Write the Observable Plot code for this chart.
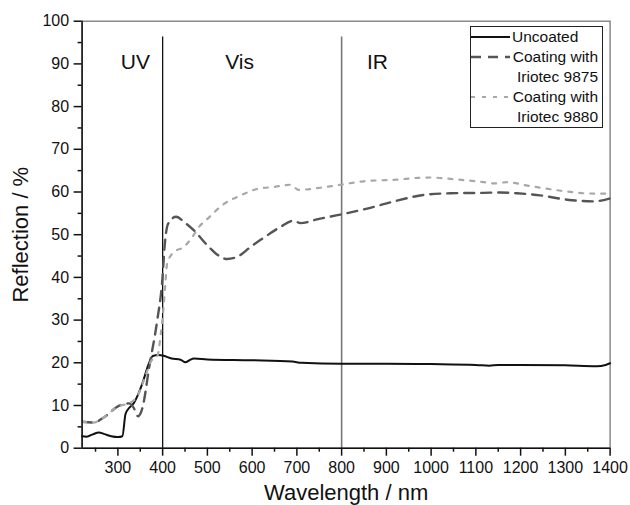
<!DOCTYPE html>
<html>
<head>
<meta charset="utf-8">
<script src="https://cdn.jsdelivr.net/npm/d3@7"></script>
<script src="https://cdn.jsdelivr.net/npm/@observablehq/plot@0.6"></script>
<style>
  html, body { margin: 0; padding: 0; background: #fff; }
  #wrap { position: relative; width: 630px; height: 505px; font-family: "Liberation Sans", Arial, sans-serif; }
  #legend { position: absolute; left: 470px; top: 26px; }
  [aria-label="y-axis label"] text, [aria-label="x-axis label"] text { font-size: 22px; }
</style>
</head>
<body>
<div id="wrap"></div>
<script>
// ---- Data ----
const wlUncoated = [220, 230, 245, 257, 270, 285, 300, 310, 317, 324, 335, 346, 357, 368, 378, 390, 400, 420, 440, 451, 460, 470, 500, 600, 690, 710, 800, 900, 1000, 1100, 1130, 1150, 1200, 1300, 1370, 1390, 1400];
const rUncoated  = [2.8, 2.7, 3.3, 3.7, 3.3, 2.8, 2.6, 2.8, 8.0, 9.3, 10.5, 12.8, 15.9, 19.5, 21.6, 21.8, 21.7, 21.0, 20.7, 20.1, 20.6, 21.0, 20.8, 20.6, 20.3, 20.0, 19.8, 19.8, 19.7, 19.5, 19.3, 19.5, 19.5, 19.4, 19.2, 19.5, 19.9];

const wl9875 = [220, 245, 270, 300, 325, 335, 345, 355, 370, 388, 399, 405, 412, 430, 450, 470, 500, 520, 544, 570, 596, 626, 663, 693, 708, 745, 797, 864, 917, 983, 1043, 1118, 1155, 1192, 1244, 1304, 1364, 1400];
const r9875  = [6.2, 6.0, 7.3, 9.8, 10.5, 9.5, 7.5, 9.5, 19.0, 30.0, 39.0, 48.0, 52.5, 54.2, 52.8, 51.0, 47.5, 45.5, 44.3, 45.0, 47.1, 49.3, 51.8, 53.3, 52.7, 53.6, 54.7, 56.3, 57.8, 59.3, 59.7, 59.8, 59.9, 59.7, 59.2, 58.2, 57.8, 58.5];

const wl9880 = [220, 245, 270, 300, 325, 345, 360, 375, 388, 395, 402, 406, 410, 425, 447, 466, 481, 500, 537, 574, 611, 650, 686, 704, 753, 797, 849, 924, 969, 998, 1050, 1118, 1140, 1170, 1215, 1290, 1342, 1387, 1400];
const r9880  = [6.2, 6.0, 7.3, 9.8, 10.5, 12.5, 16.5, 20.5, 21.5, 26.0, 33.0, 38.5, 43.2, 45.9, 47.1, 49.4, 51.8, 53.7, 57.2, 59.2, 60.7, 61.2, 61.7, 60.5, 61.0, 61.7, 62.5, 62.9, 63.3, 63.4, 63.0, 62.3, 62.0, 62.3, 61.5, 60.3, 59.7, 59.6, 60.3];

const regionBounds = [400, 800];
const regionNames = ["UV", "Vis", "IR"];
const regionLabelX = [339, 572, 880];
const regionLabelY = 88.9;
const regionLineTop = 96.3;

const xMajorTicks = [300, 400, 500, 600, 700, 800, 900, 1000, 1100, 1200, 1300, 1400];
const xMinorTicks = [250, 350, 450, 550, 650, 750, 850, 950, 1050, 1150, 1250, 1350];
const yMajorTicks = [0, 10, 20, 30, 40, 50, 60, 70, 80, 90, 100];
const yMinorTicks = [5, 15, 25, 35, 45, 55, 65, 75, 85, 95];

const seriesNames = ["Uncoated", "Coating with Iriotec 9875", "Coating with Iriotec 9880"];

// ---- Build tables ----
const toRows = (wl, r) => wl.map((w, i) => ({wl: w, r: r[i]}));
const uncoated = toRows(wlUncoated, rUncoated);
const c9875 = toRows(wl9875, r9875);
const c9880 = toRows(wl9880, r9880);
const regionLabels = regionNames.map((n, i) => ({name: n, x: regionLabelX[i], y: regionLabelY}));

const styles = {
  uncoated: {stroke: "#111", strokeWidth: 2},
  c9875: {stroke: "#555", strokeWidth: 2.4, strokeDasharray: "10,7"},
  c9880: {stroke: "#a8a8a8", strokeWidth: 2.2, strokeDasharray: "4,7"}
};

const chart = Plot.plot({
  width: 630,
  height: 505,
  marginLeft: 81.6,
  marginRight: 20.4,
  marginTop: 20.7,
  marginBottom: 57.3,
  style: {fontFamily: "'Liberation Sans', Arial, sans-serif", fontSize: "16px", color: "#111", background: "#fff"},
  x: {domain: [220, 1400]},
  y: {domain: [0, 100]},
  marks: [
    Plot.frame({stroke: "#777", strokeWidth: 1.3}),
    Plot.ruleX(regionBounds, {y1: 0, y2: regionLineTop, stroke: (d) => d === 400 ? "#111" : "#777", strokeWidth: (d) => d === 400 ? 1.3 : 1.6}),
    Plot.text(regionLabels, {x: "x", y: "y", text: "name", fontSize: 21, lineAnchor: "bottom", fill: "#111"}),
    Plot.line(uncoated, {x: "wl", y: "r", curve: "monotone-x", ...styles.uncoated}),
    Plot.line(c9875, {x: "wl", y: "r", curve: "monotone-x", ...styles.c9875}),
    Plot.line(c9880, {x: "wl", y: "r", curve: "monotone-x", ...styles.c9880}),
    Plot.ruleX([220], {stroke: "#111", strokeWidth: 1.5}),
    Plot.ruleY([0], {stroke: "#111", strokeWidth: 1.5}),
    Plot.axisX({ticks: xMajorTicks, tickSize: 8, tickPadding: 5, strokeWidth: 1.5, label: "Wavelength / nm", labelAnchor: "center", labelArrow: "none", labelOffset: 52, tickFormat: (d) => String(d)}),
    Plot.axisX({ticks: xMinorTicks, tickSize: 4, strokeWidth: 1.5, text: null, label: null}),
    Plot.axisY({ticks: yMajorTicks, tickSize: 8, tickPadding: 5, strokeWidth: 1.5, label: "Reflection / %", labelAnchor: "center", labelArrow: "none", labelOffset: 70, tickFormat: (d) => String(d)}),
    Plot.axisY({ticks: yMinorTicks, tickSize: 4, strokeWidth: 1.5, text: null, label: null})
  ]
});

const wrap = document.getElementById("wrap");
wrap.appendChild(chart);

// ---- Legend (HTML/SVG overlay) ----
const lg = d3.select(wrap).append("svg").attr("id", "legend").attr("width", 134).attr("height", 103)
  .style("font-family", "'Liberation Sans', Arial, sans-serif");
lg.append("rect").attr("x", 0.5).attr("y", 0.5).attr("width", 132).attr("height", 101)
  .attr("fill", "#fff").attr("stroke", "#222").attr("stroke-width", 1);
const legendRows = [
  {key: "uncoated", lines: [seriesNames[0]], anchor: "start"},
  {key: "c9875", lines: ["Coating with", "Iriotec 9875"], anchor: "end"},
  {key: "c9880", lines: ["Coating with", "Iriotec 9880"], anchor: "end"}
];
let rowY = 11;
legendRows.forEach((row) => {
  const s = styles[row.key];
  lg.append("line").attr("x1", 1).attr("x2", 40).attr("y1", rowY).attr("y2", rowY)
    .attr("stroke", s.stroke).attr("stroke-width", s.strokeWidth)
    .attr("stroke-dasharray", s.strokeDasharray || null);
  row.lines.forEach((t, j) => {
    lg.append("text").attr("x", row.anchor === "start" ? 42 : 128).attr("y", rowY + j * 20)
      .attr("dy", "0.35em").attr("text-anchor", row.anchor)
      .attr("font-size", 15.5).attr("fill", "#111").text(t);
  });
  rowY += 20 * row.lines.length;
});
</script>
</body>
</html>
